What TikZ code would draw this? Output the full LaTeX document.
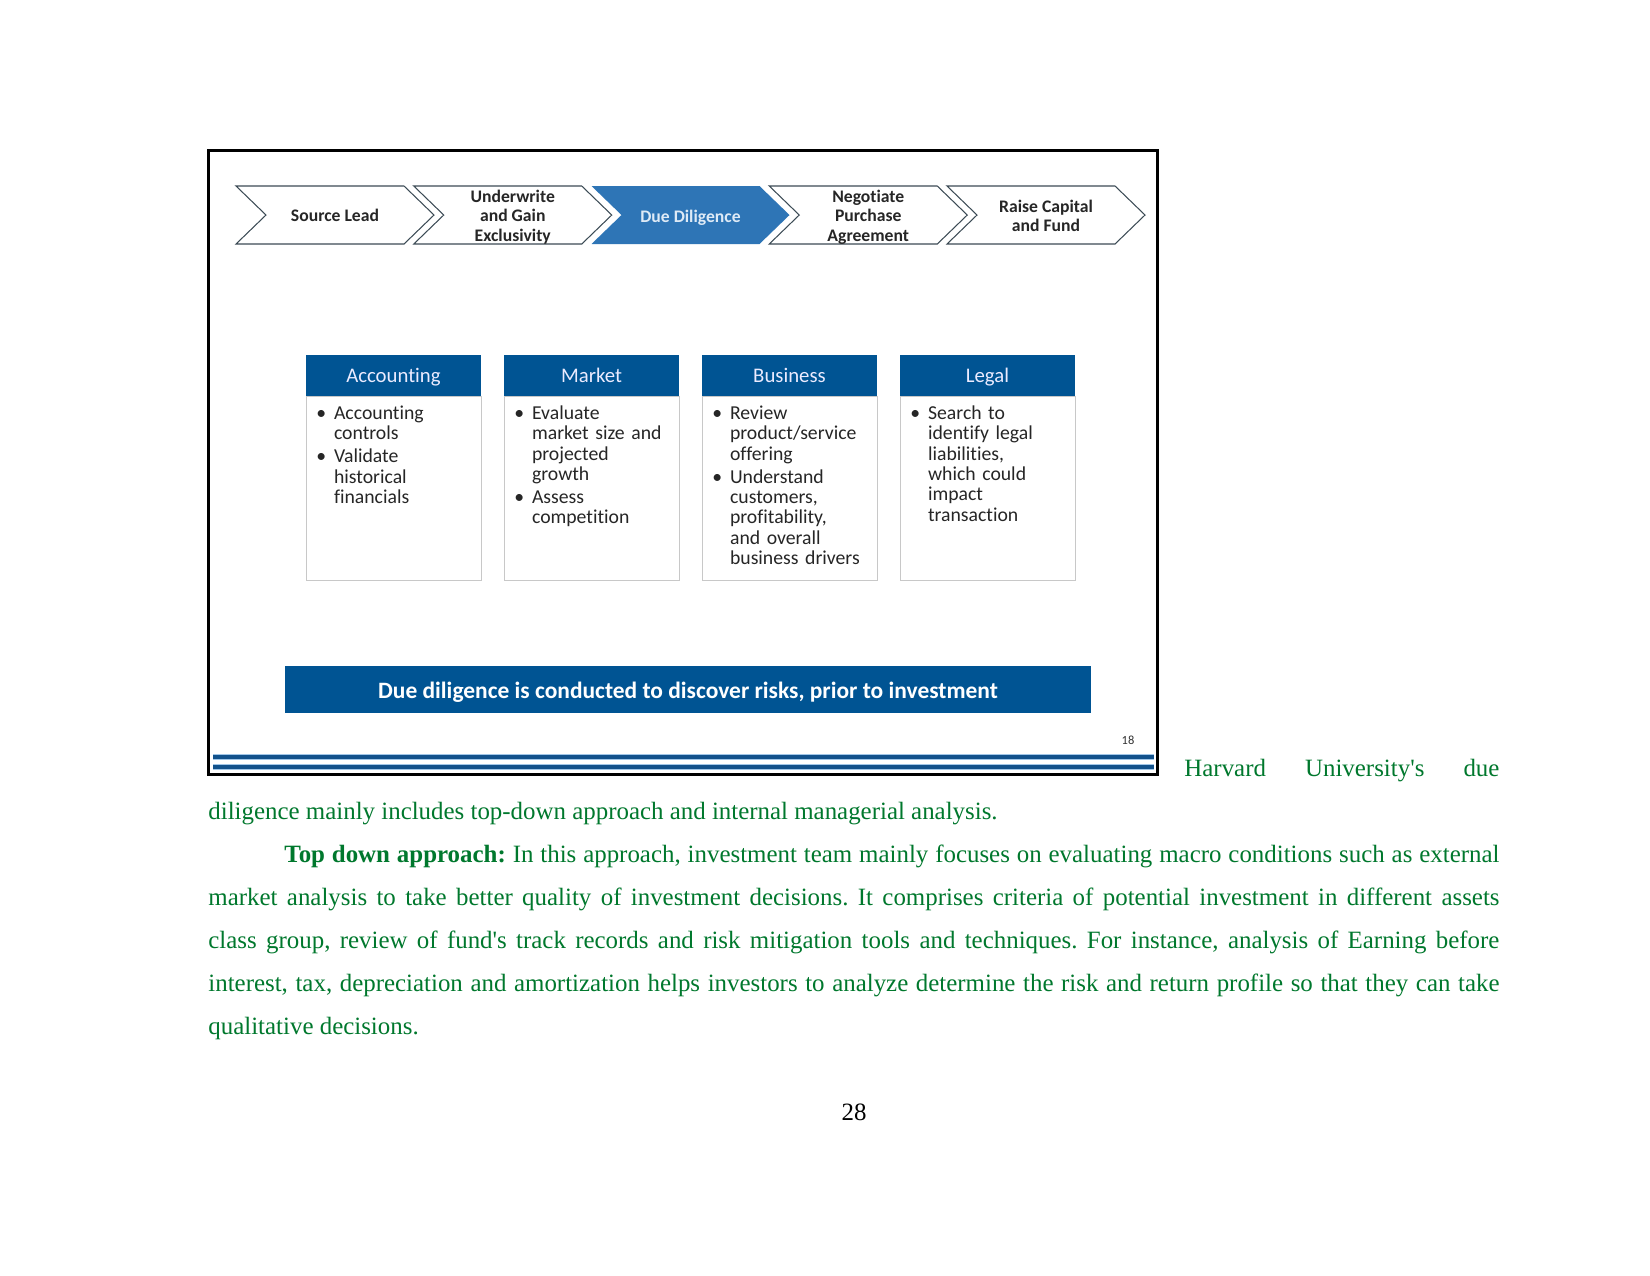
\documentclass[tikz,border=0pt]{standalone}
\usepackage{fontspec}
\setmainfont{Liberation Serif}
\newfontfamily\slidefont[Ligatures=NoCommon]{Carlito}
\definecolor{hdrblue}{RGB}{0,84,147}
\definecolor{ddblue}{RGB}{46,117,182}
\definecolor{ddtext}{RGB}{222,234,246}
\definecolor{chevline}{RGB}{60,75,85}
\definecolor{boxline}{RGB}{200,200,200}
\definecolor{rulelight}{RGB}{160,198,232}
\definecolor{ruledark}{RGB}{18,82,140}
\definecolor{paragreen}{RGB}{0,120,45}
\newcommand{\bpoint}[1]{\par\noindent\hangindent=8.5pt\hangafter=1\makebox[8.5pt][l]{\textbullet}#1\par\vspace{1.4pt}}
\newcommand{\jline}[2]{\makebox[#1][s]{#2}}
\frenchspacing

\begin{document}
\begin{tikzpicture}[x=0.4818pt,y=-0.4818pt,
  chev/.style={draw=chevline,fill=white,line width=0.5pt},
  chevdd/.style={fill=ddblue},
  chevtxt/.style={font=\slidefont\bfseries\fontsize{8.5}{9.4}\selectfont,align=center,text=black!85},
  hdrtxt/.style={font=\slidefont\fontsize{10}{12}\selectfont,text=white!92!blue,anchor=base},
  bodytxt/.style={font=\slidefont\fontsize{9.5}{9.8}\selectfont,text width=82pt,anchor=base west,inner sep=0pt,text=black!85},
  paraline/.style={anchor=base west,inner sep=0pt,text=paragreen,font=\fontsize{12}{14}\selectfont}]
  \useasboundingbox (0,0) rectangle (1650,1275);
  \fill[white] (0,0) rectangle (1650,1275);

  % process chevrons
  \draw[chev] (236,186) -- ++(168,0) -- ++(30,29) -- ++(-30,29) -- ++(-168,0) -- ++(30,-29) -- cycle;
  \node[chevtxt] (srclead) at (335,215) {Source Lead};
  \draw[chev] (413.75,186) -- ++(168,0) -- ++(30,29) -- ++(-30,29) -- ++(-168,0) -- ++(30,-29) -- cycle;
  \node[chevtxt] (underwrite) at (512.75,217) {Underwrite\\and Gain\\Exclusivity};
  \fill[chevdd] (591.5,186) -- ++(168,0) -- ++(30,29) -- ++(-30,29) -- ++(-168,0) -- ++(30,-29) -- cycle;
  \node[chevtxt,text=ddtext] (duedil) at (690.5,218) {Due Diligence};
  \draw[chev] (769.25,186) -- ++(168,0) -- ++(30,29) -- ++(-30,29) -- ++(-168,0) -- ++(30,-29) -- cycle;
  \node[chevtxt] (negotiate) at (868.25,217) {Negotiate\\Purchase\\Agreement};
  \draw[chev] (947,186) -- ++(168,0) -- ++(30,29) -- ++(-30,29) -- ++(-168,0) -- ++(30,-29) -- cycle;
  \node[chevtxt] (raisecap) at (1046,216) {Raise Capital\\and Fund};

  % the four areas
  \fill[hdrblue] (306,355) rectangle (481,396);
  \draw[boxline] (306,396) rectangle (481,580);
  \node[hdrtxt] (acct) at (393.5,382) {Accounting};
  \node[bodytxt] (acctlist) at (316,399) {\bpoint{Accounting\newline controls}\bpoint{Validate\newline historical\newline financials}};

  \fill[hdrblue] (504,355) rectangle (679,396);
  \draw[boxline] (504,396) rectangle (679,580);
  \node[hdrtxt] (mkt) at (591.5,382) {Market};
  \node[bodytxt] (mktlist) at (514,399) {\bpoint{Evaluate\newline market size and\newline projected\newline growth}\bpoint{Assess\newline competition}};

  \fill[hdrblue] (702,355) rectangle (877,396);
  \draw[boxline] (702,396) rectangle (877,580);
  \node[hdrtxt] (bus) at (789.5,382) {Business};
  \node[bodytxt] (buslist) at (712,399) {\bpoint{Review\newline product/service\newline offering}\bpoint{Understand\newline customers,\newline profitability,\newline and overall\newline business drivers}};

  \fill[hdrblue] (900,355) rectangle (1075,396);
  \draw[boxline] (900,396) rectangle (1075,580);
  \node[hdrtxt] (legal) at (987.5,382) {Legal};
  \node[bodytxt] (legallist) at (910,399) {\bpoint{Search to\newline identify legal\newline liabilities,\newline which could\newline impact\newline transaction}};

  % banner and slide footer
  \fill[hdrblue] (285,666) rectangle (1091,713);
  \node[font=\slidefont\bfseries\fontsize{11.3}{13}\selectfont,text=white] (banner) at (688,692) {Due diligence is conducted to discover risks, prior to investment};
  \node[font=\slidefont\fontsize{6}{7}\selectfont,text=black!80] (slideno) at (1128,740) {18};
  \draw[rulelight,line width=3pt] (213,757) -- (1154,757);
  \draw[ruledark,line width=2pt] (213,757) -- (1154,757);
  \draw[rulelight,line width=3pt] (213,767) -- (1154,767);
  \draw[ruledark,line width=2pt] (213,767) -- (1154,767);
  \draw[line width=1.25pt] (208.4,150.5) rectangle (1157.5,774.5);

  % running text
  \node[paraline] (l1) at (1184,776) {\jline{151.8pt}{Harvard University\textquotesingle s due}};
  \node[paraline] (l2) at (208,819) {diligence mainly includes top-down approach and internal managerial analysis.};
  \node[paraline] (l3) at (284,862) {\jline{585.4pt}{\textbf{Top down approach:} In this approach, investment team mainly focuses on evaluating macro conditions such as external}};
  \node[paraline] (l4) at (208,905) {\jline{622pt}{market analysis to take better quality of investment decisions. It comprises criteria of potential investment in different assets}};
  \node[paraline] (l5) at (208,948) {\jline{622pt}{class group, review of fund\textquotesingle s track records and risk mitigation tools and techniques. For instance, analysis of Earning before}};
  \node[paraline] (l6) at (208,991) {\jline{622pt}{interest, tax, depreciation and amortization helps investors to analyze determine the risk and return profile so that they can take}};
  \node[paraline] (l7) at (208,1034) {qualitative decisions.};
  \node[font=\fontsize{12}{14}\selectfont,anchor=base] (pageno) at (854,1120) {28};
\end{tikzpicture}
\end{document}
